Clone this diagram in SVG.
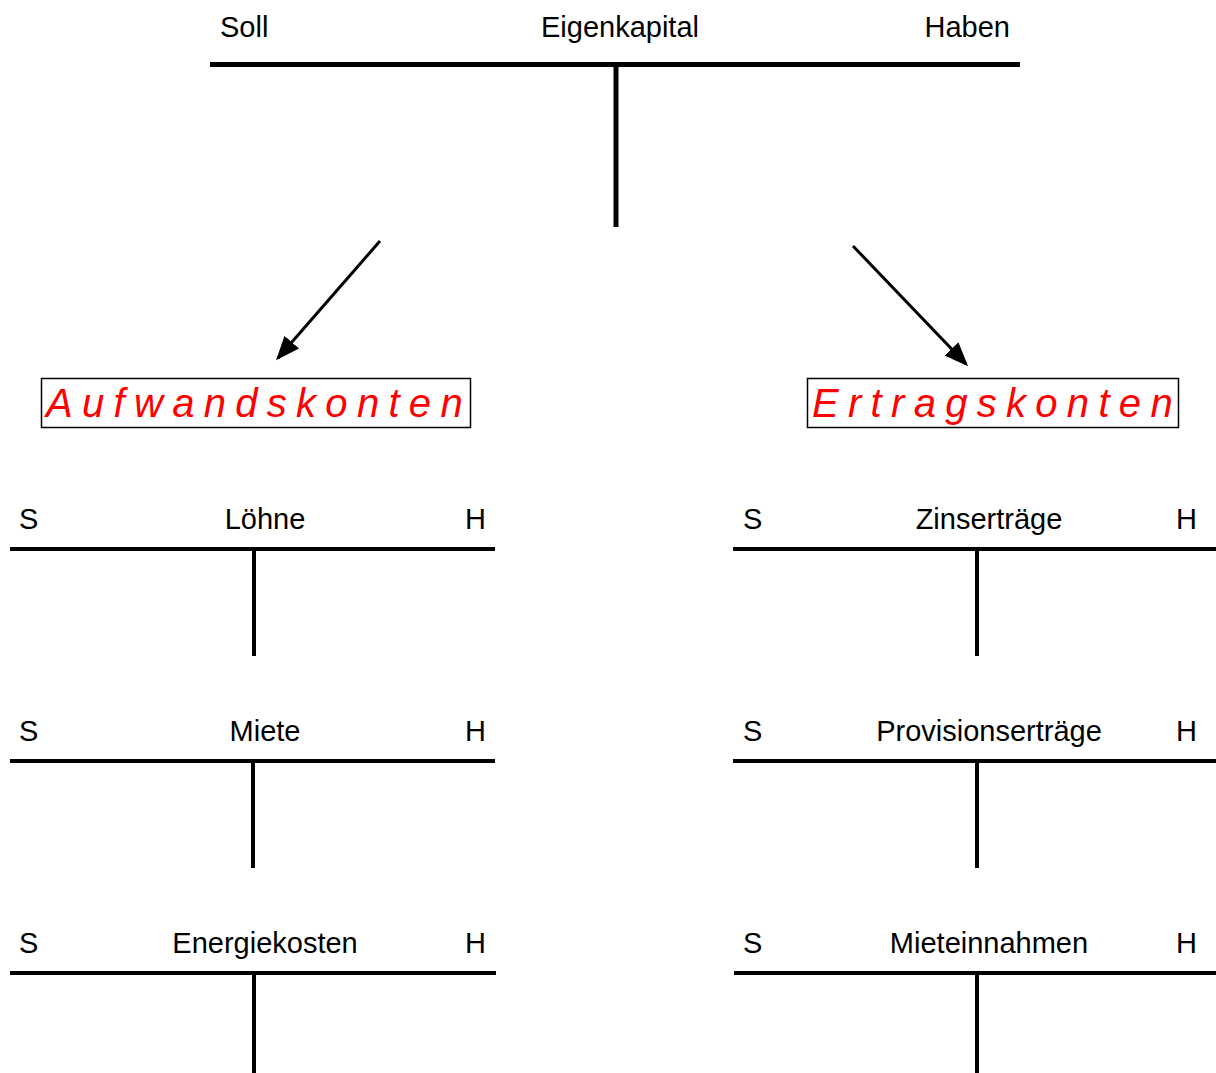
<svg xmlns="http://www.w3.org/2000/svg" width="1216" height="1073" viewBox="0 0 1216 1073">
<style>
text{font-family:"Liberation Sans",Arial,sans-serif;fill:#000}
.t{font-size:29px}
.h{stroke:#000;stroke-width:4}
.v{stroke:#000;stroke-width:4}
.big{font-size:40px;font-style:italic;fill:#ff0000;letter-spacing:9.3px}
.box{fill:none;stroke:#000;stroke-width:1.5}
.arr{stroke:#000;stroke-width:3;fill:none}
</style>
<defs>
<marker id="ah" markerWidth="8" markerHeight="8" refX="7" refY="4" orient="auto" markerUnits="strokeWidth" viewBox="0 0 8 8">
<path d="M0,0.8 L8,4 L0,7.2 Z" fill="#000"/>
</marker>
</defs>
<g id="eigenkapital">
<text class="t" x="220" y="37">Soll</text>
<text class="t" x="620" y="37" text-anchor="middle">Eigenkapital</text>
<text class="t" x="1010" y="37" text-anchor="end">Haben</text>
<line x1="210" y1="64.5" x2="1020" y2="64.5" stroke="#000" stroke-width="5"/>
<line x1="616" y1="64" x2="616" y2="227" stroke="#000" stroke-width="5"/>
</g>
<g id="connectors">
<line class="arr" x1="380" y1="241" x2="278" y2="358" marker-end="url(#ah)"/>
<line class="arr" x1="853" y1="246" x2="966" y2="364" marker-end="url(#ah)"/>
</g>
<g id="aufwandskonten">
<rect class="box" x="41.5" y="378.5" width="429" height="49"/>
<text class="big" x="46" y="417">Aufwandskonten</text>
</g>
<g id="ertragskonten">
<rect class="box" x="807.5" y="378.5" width="371" height="49"/>
<text class="big" x="812" y="417">Ertragskonten</text>
</g>
<g id="loehne">
<text class="t" x="19" y="529">S</text>
<text class="t" x="265" y="529" text-anchor="middle">Löhne</text>
<text class="t" x="486" y="529" text-anchor="end">H</text>
<line class="h" x1="10" y1="549" x2="495" y2="549"/>
<line class="v" x1="254" y1="549" x2="254" y2="656"/>
</g>
<g id="miete">
<text class="t" x="19" y="741">S</text>
<text class="t" x="265" y="741" text-anchor="middle">Miete</text>
<text class="t" x="486" y="741" text-anchor="end">H</text>
<line class="h" x1="10" y1="761" x2="495" y2="761"/>
<line class="v" x1="253" y1="761" x2="253" y2="868"/>
</g>
<g id="energiekosten">
<text class="t" x="19" y="953">S</text>
<text class="t" x="265" y="953" text-anchor="middle">Energiekosten</text>
<text class="t" x="486" y="953" text-anchor="end">H</text>
<line class="h" x1="10" y1="973" x2="496" y2="973"/>
<line class="v" x1="254" y1="973" x2="254" y2="1073"/>
</g>
<g id="zinsertraege">
<text class="t" x="743" y="529">S</text>
<text class="t" x="989" y="529" text-anchor="middle">Zinserträge</text>
<text class="t" x="1197" y="529" text-anchor="end">H</text>
<line class="h" x1="733" y1="549" x2="1216" y2="549"/>
<line class="v" x1="977" y1="549" x2="977" y2="656"/>
</g>
<g id="provisionsertraege">
<text class="t" x="743" y="741">S</text>
<text class="t" x="989" y="741" text-anchor="middle">Provisionserträge</text>
<text class="t" x="1197" y="741" text-anchor="end">H</text>
<line class="h" x1="733" y1="761" x2="1216" y2="761"/>
<line class="v" x1="977" y1="761" x2="977" y2="868"/>
</g>
<g id="mieteinnahmen">
<text class="t" x="743" y="953">S</text>
<text class="t" x="989" y="953" text-anchor="middle">Mieteinnahmen</text>
<text class="t" x="1197" y="953" text-anchor="end">H</text>
<line class="h" x1="734" y1="973" x2="1216" y2="973"/>
<line class="v" x1="977" y1="973" x2="977" y2="1073"/>
</g>
</svg>
